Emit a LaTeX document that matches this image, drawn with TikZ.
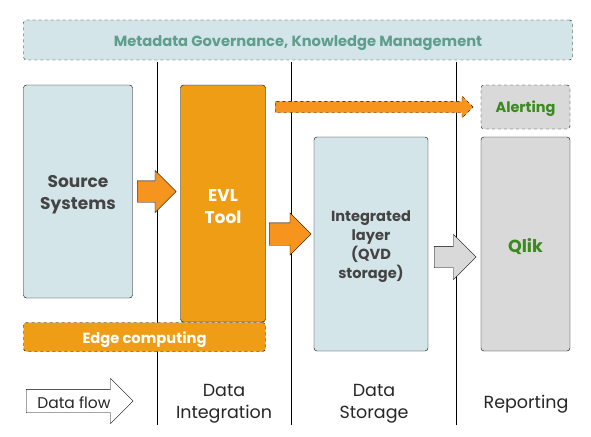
\documentclass[tikz,border=0pt]{standalone}
\usepackage{fontspec}
\setmainfont{Poppins}
\usetikzlibrary{shapes.arrows}

\definecolor{paleblue}{HTML}{D4E5E9}
\definecolor{evlorange}{HTML}{EE9D14}
\definecolor{arroworange}{HTML}{F7941D}
\definecolor{palegrey}{HTML}{D9D9D9}
\definecolor{tealtext}{HTML}{5E9E8C}
\definecolor{greentext}{HTML}{3A8A1E}
\definecolor{darktext}{HTML}{444444}
\newcommand{\lift}{\rule{0pt}{1.1em}}

\begin{document}
\begin{tikzpicture}[x=1pt,y=-1pt]
\tikzstyle{box} = [rectangle, draw, thin, rounded corners=3pt, inner sep=0pt,
align=center, text=darktext, font=\fontsize{17}{22}\selectfont\bfseries,
execute at begin node=\lift]
\tikzstyle{bluebox} = [box, fill=paleblue]
\tikzstyle{greybox} = [box, fill=palegrey, text=greentext]
\tikzstyle{orangebox} = [box, fill=evlorange, text=white]
\tikzstyle{flow} = [single arrow, draw, thin, inner xsep=0pt, anchor=tail,
single arrow head indent=0pt]
\tikzstyle{lane} = [draw, thin]
\tikzstyle{caption} = [align=center, font=\fontsize{17.5}{22}\selectfont, text=black!85]
\useasboundingbox (0,0) rectangle (591,436);

% lane separators
\foreach \x/\name in {157/one, 291/two, 456/three}
{
  \coordinate (\name top) at (\x,62);
  \coordinate (\name bot) at (\x,425);
  \path[lane] (\name top) -- (\name bot);
}

% top row
\node [bluebox, dashed, minimum width=549pt, minimum height=40pt, text=tealtext,
font=\fontsize{14.7}{16}\selectfont\bfseries] (meta) at (298,40)
{Metadata Governance, Knowledge Management};
\node [greybox, dashed, minimum width=89pt, minimum height=44pt,
font=\fontsize{14.5}{16}\selectfont\bfseries] (alert) at (525.5,107) {Alerting};
% main row
\node [bluebox, minimum width=109pt, minimum height=213pt] (source) at (78,191.5)
{\lift Source\\Systems};
\node [orangebox, minimum width=85pt, minimum height=237pt] (evl) at (223,203.5)
{\lift EVL\\Tool};
\node [bluebox, minimum width=114pt, minimum height=214pt,
font=\fontsize{14.6}{19}\selectfont\bfseries] (integ) at (371,244)
{\lift Integrated\\layer\\(QVD\\storage)};
\node [greybox, minimum width=89pt, minimum height=214pt,
font=\fontsize{17.5}{20}\selectfont\bfseries] (qlik) at (525.5,244) {Qlik};
\node [orangebox, dashed, minimum width=242pt, minimum height=29pt,
font=\fontsize{14.7}{16}\selectfont\bfseries] (edge) at (144.5,337) {Edge computing};

% arrows between the blocks
\node [flow, fill=arroworange, inner ysep=10.5pt, minimum height=39pt,
single arrow head extend=10.5pt] (srcevl) at (137,191.5) {};
\node [flow, fill=arroworange, inner ysep=11pt, minimum height=42pt,
single arrow head extend=10pt] (evlinteg) at (269,234) {};
\node [flow, fill=palegrey, inner ysep=10.5pt, minimum height=42pt,
single arrow head extend=12pt] (integqlik) at (434,257) {};
\node [flow, dashed, fill=arroworange, inner ysep=5.5pt, minimum height=198pt,
single arrow head extend=5.5pt] (evlalert) at (275,107) {};

% legend and lane names
\node [flow, fill=white, inner ysep=11.5pt, minimum height=107pt,
single arrow head extend=11pt] (legend) at (26,401) {};
\node [caption, font=\fontsize{15.5}{16}\selectfont] (legendtext) at (74,403) {Data flow};
\node [caption] (integname) at (224,404) {Data\\Integration};
\node [caption] (storename) at (374,404) {Data\\Storage};
\node [caption] (reportname) at (526,404) {Reporting};

\end{tikzpicture}
\end{document}
